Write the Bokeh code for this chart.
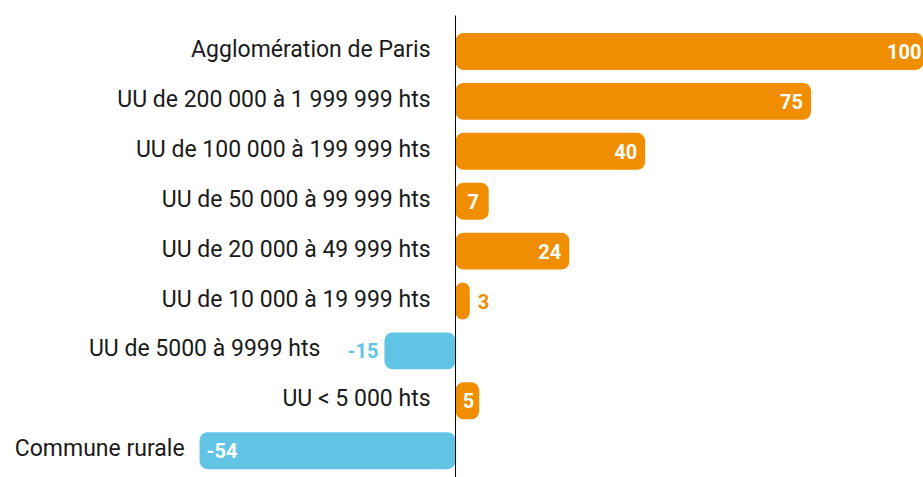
from bokeh.plotting import figure
from bokeh.models import ColumnDataSource, Range1d
from bokeh.core.properties import value
from bokeh.embed import file_html
from bokeh.resources import INLINE

categories = ["Agglomération de Paris", "UU de 200 000 à 1 999 999 hts",
              "UU de 100 000 à 199 999 hts", "UU de 50 000 à 99 999 hts",
              "UU de 20 000 à 49 999 hts", "UU de 10 000 à 19 999 hts",
              "UU de 5000 à 9999 hts", "UU < 5 000 hts", "Commune rurale"]
values = [100, 75, 40, 7, 24, 3, -15, 5, -54]
label_mode = ["end", "end", "end", "center", "end", "outside", "outside", "center", "end"]

ORANGE = "#F08D00"
BLUE = "#62C4E4"

pos = list(range(len(categories)))
colors = [ORANGE if v >= 0 else BLUE for v in values]
left = [min(0, v) for v in values]
right = [max(0, v) for v in values]

p = figure(width=923, height=477, output_backend="svg", toolbar_location=None,
           x_range=Range1d(-96.0, 98.73), y_range=Range1d(8.537, -1.022),
           min_border=0, min_border_left=0, min_border_right=0,
           min_border_top=0, min_border_bottom=0)
p.axis.visible = False
p.grid.visible = False
p.outline_line_color = None
p.background_fill_color = "white"

src = ColumnDataSource(dict(y=pos, left=left, right=right, color=colors))
p.hbar(y="y", left="left", right="right", height=0.74, source=src,
       fill_color="color", line_color=None, border_radius=8)

# zero axis line
p.segment(x0=[0], y0=[-0.72], x1=[0], y1=[8.6], line_color="black", line_width=1)

# category labels
for i, (c, v, m) in enumerate(zip(categories, values, label_mode)):
    if v >= 0:
        off = -25
    elif m == "outside":
        off = -64
    else:
        off = -15
    p.text(x=[min(0, v)], y=[i], text=[c], x_offset=off, y_offset=-2,
           text_align="right", text_baseline="middle", text_font=value("Roboto"),
           text_font_size="23px", text_color="#1a1a1a")

# value labels
for i, (v, m) in enumerate(zip(values, label_mode)):
    lbl = str(v)
    if m == "end":
        if v >= 0:
            kw = dict(x=[v], x_offset=-8, text_align="right", text_color="white")
        else:
            kw = dict(x=[v], x_offset=7, text_align="left", text_color="white")
    elif m == "center":
        kw = dict(x=[v / 2], x_offset=1, text_align="center", text_color="white")
    else:
        if v >= 0:
            kw = dict(x=[v], x_offset=8, text_align="left", text_color=ORANGE)
        else:
            kw = dict(x=[v], x_offset=-6, text_align="right", text_color=BLUE)
    p.text(y=[i], text=[lbl], text_baseline="middle", text_font=value("Roboto"),
           text_font_size="20px", text_font_style="bold", **kw)

open("out.html", "w").write(file_html(p, INLINE))
